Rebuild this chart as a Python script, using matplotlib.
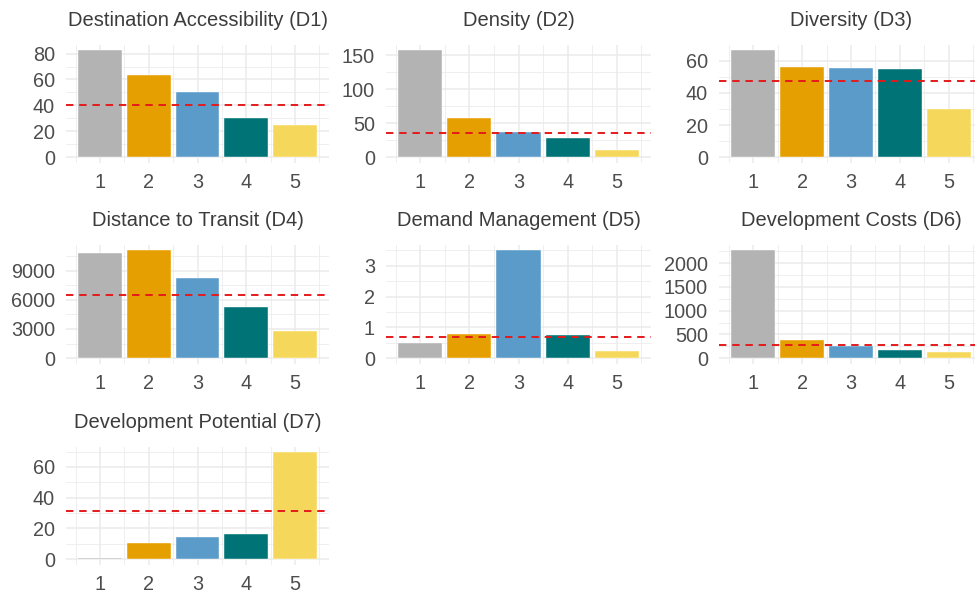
import matplotlib
matplotlib.use("Agg")
import matplotlib.pyplot as plt
import numpy as np

plt.rcParams['font.family'] = ['Liberation Sans', 'DejaVu Sans']

# data
categories = [1, 2, 3, 4, 5]
bar_colors = ['#B3B3B3', '#E69F00', '#5B9BCA', '#007377', '#F5D85B']

titles = ['Destination Accessibility (D1)', 'Density (D2)', 'Diversity (D3)',
          'Distance to Transit (D4)', 'Demand Management (D5)',
          'Development Costs (D6)', 'Development Potential (D7)']

d1 = [82.5, 63.5, 50.5, 30, 24.8]
d2 = [157, 58, 36.7, 28.8, 10.7]
d3 = [66.5, 56.3, 55.6, 54.8, 30]
d4 = [10850, 11070, 8210, 5260, 2820]
d5 = [0.49, 0.77, 3.5, 0.75, 0.23]
d6 = [2270, 376, 257, 173, 132]
d7 = [1.0, 10.3, 14.2, 16.4, 69.5]
values = [d1, d2, d3, d4, d5, d6, d7]

mean_lines = [40.2, 35.2, 47.5, 6495, 0.69, 278, 31.5]

y_ticks = [
    [0, 20, 40, 60, 80],
    [0, 50, 100, 150],
    [0, 20, 40, 60],
    [0, 3000, 6000, 9000],
    [0, 1, 2, 3],
    [0, 500, 1000, 1500, 2000],
    [0, 20, 40, 60],
]

# panel boxes in pixels (left, right, top, bottom)
W, H = 975, 592
col_x = [(66, 329), (386, 651), (719, 983)]
row_y = [(45, 162.5), (245, 363.5), (447, 564.5)]

fig = plt.figure(figsize=(W / 100, H / 100), dpi=100)
fig.patch.set_facecolor('white')

grid_col = '#EBEBEB'
text_col = '#4D4D4D'

for i, (title, vals) in enumerate(zip(titles, values)):
    r, c = divmod(i, 3)
    x0, x1 = col_x[c]
    yt, yb = row_y[r]
    ax = fig.add_axes([x0 / W, 1 - yb / H, (x1 - x0) / W, (yb - yt) / H])
    ax.set_facecolor('white')
    for s in ax.spines.values():
        s.set_visible(False)

    vmax = max(vals)
    ticks = y_ticks[i]
    step = ticks[1] - ticks[0]
    minor_y = [t + step / 2 for t in ticks] + [ticks[0] - step / 2]
    ax.set_yticks(ticks)
    ax.set_yticks(minor_y, minor=True)
    ax.set_xticks(categories)
    ax.set_xticks(np.arange(0.5, 6.0, 1.0), minor=True)

    ax.grid(True, which='major', color=grid_col, linewidth=1.1)
    ax.grid(True, which='minor', color=grid_col, linewidth=0.55)
    ax.set_axisbelow(True)

    ax.tick_params(which='both', length=0)
    ax.tick_params(axis='y', pad=8, labelsize=14.3, labelcolor=text_col)
    ax.tick_params(axis='x', pad=7.5, labelsize=14.3, labelcolor=text_col)

    ax.bar(categories, vals, width=0.9, color=bar_colors,
           edgecolor='white', linewidth=0.3, zorder=2)
    ax.axhline(mean_lines[i], color='#E41A1C', linewidth=1.4,
               dashes=(3.8, 3.0), zorder=3)

    ax.set_ylim(-0.05 * vmax, 1.05 * vmax)
    ax.set_xlim(0.305, 5.695)

    ax.set_title(title, fontsize=14.5, color='#3C3C3C', pad=13.5)

fig.savefig('out.png', dpi=100, facecolor='white')
